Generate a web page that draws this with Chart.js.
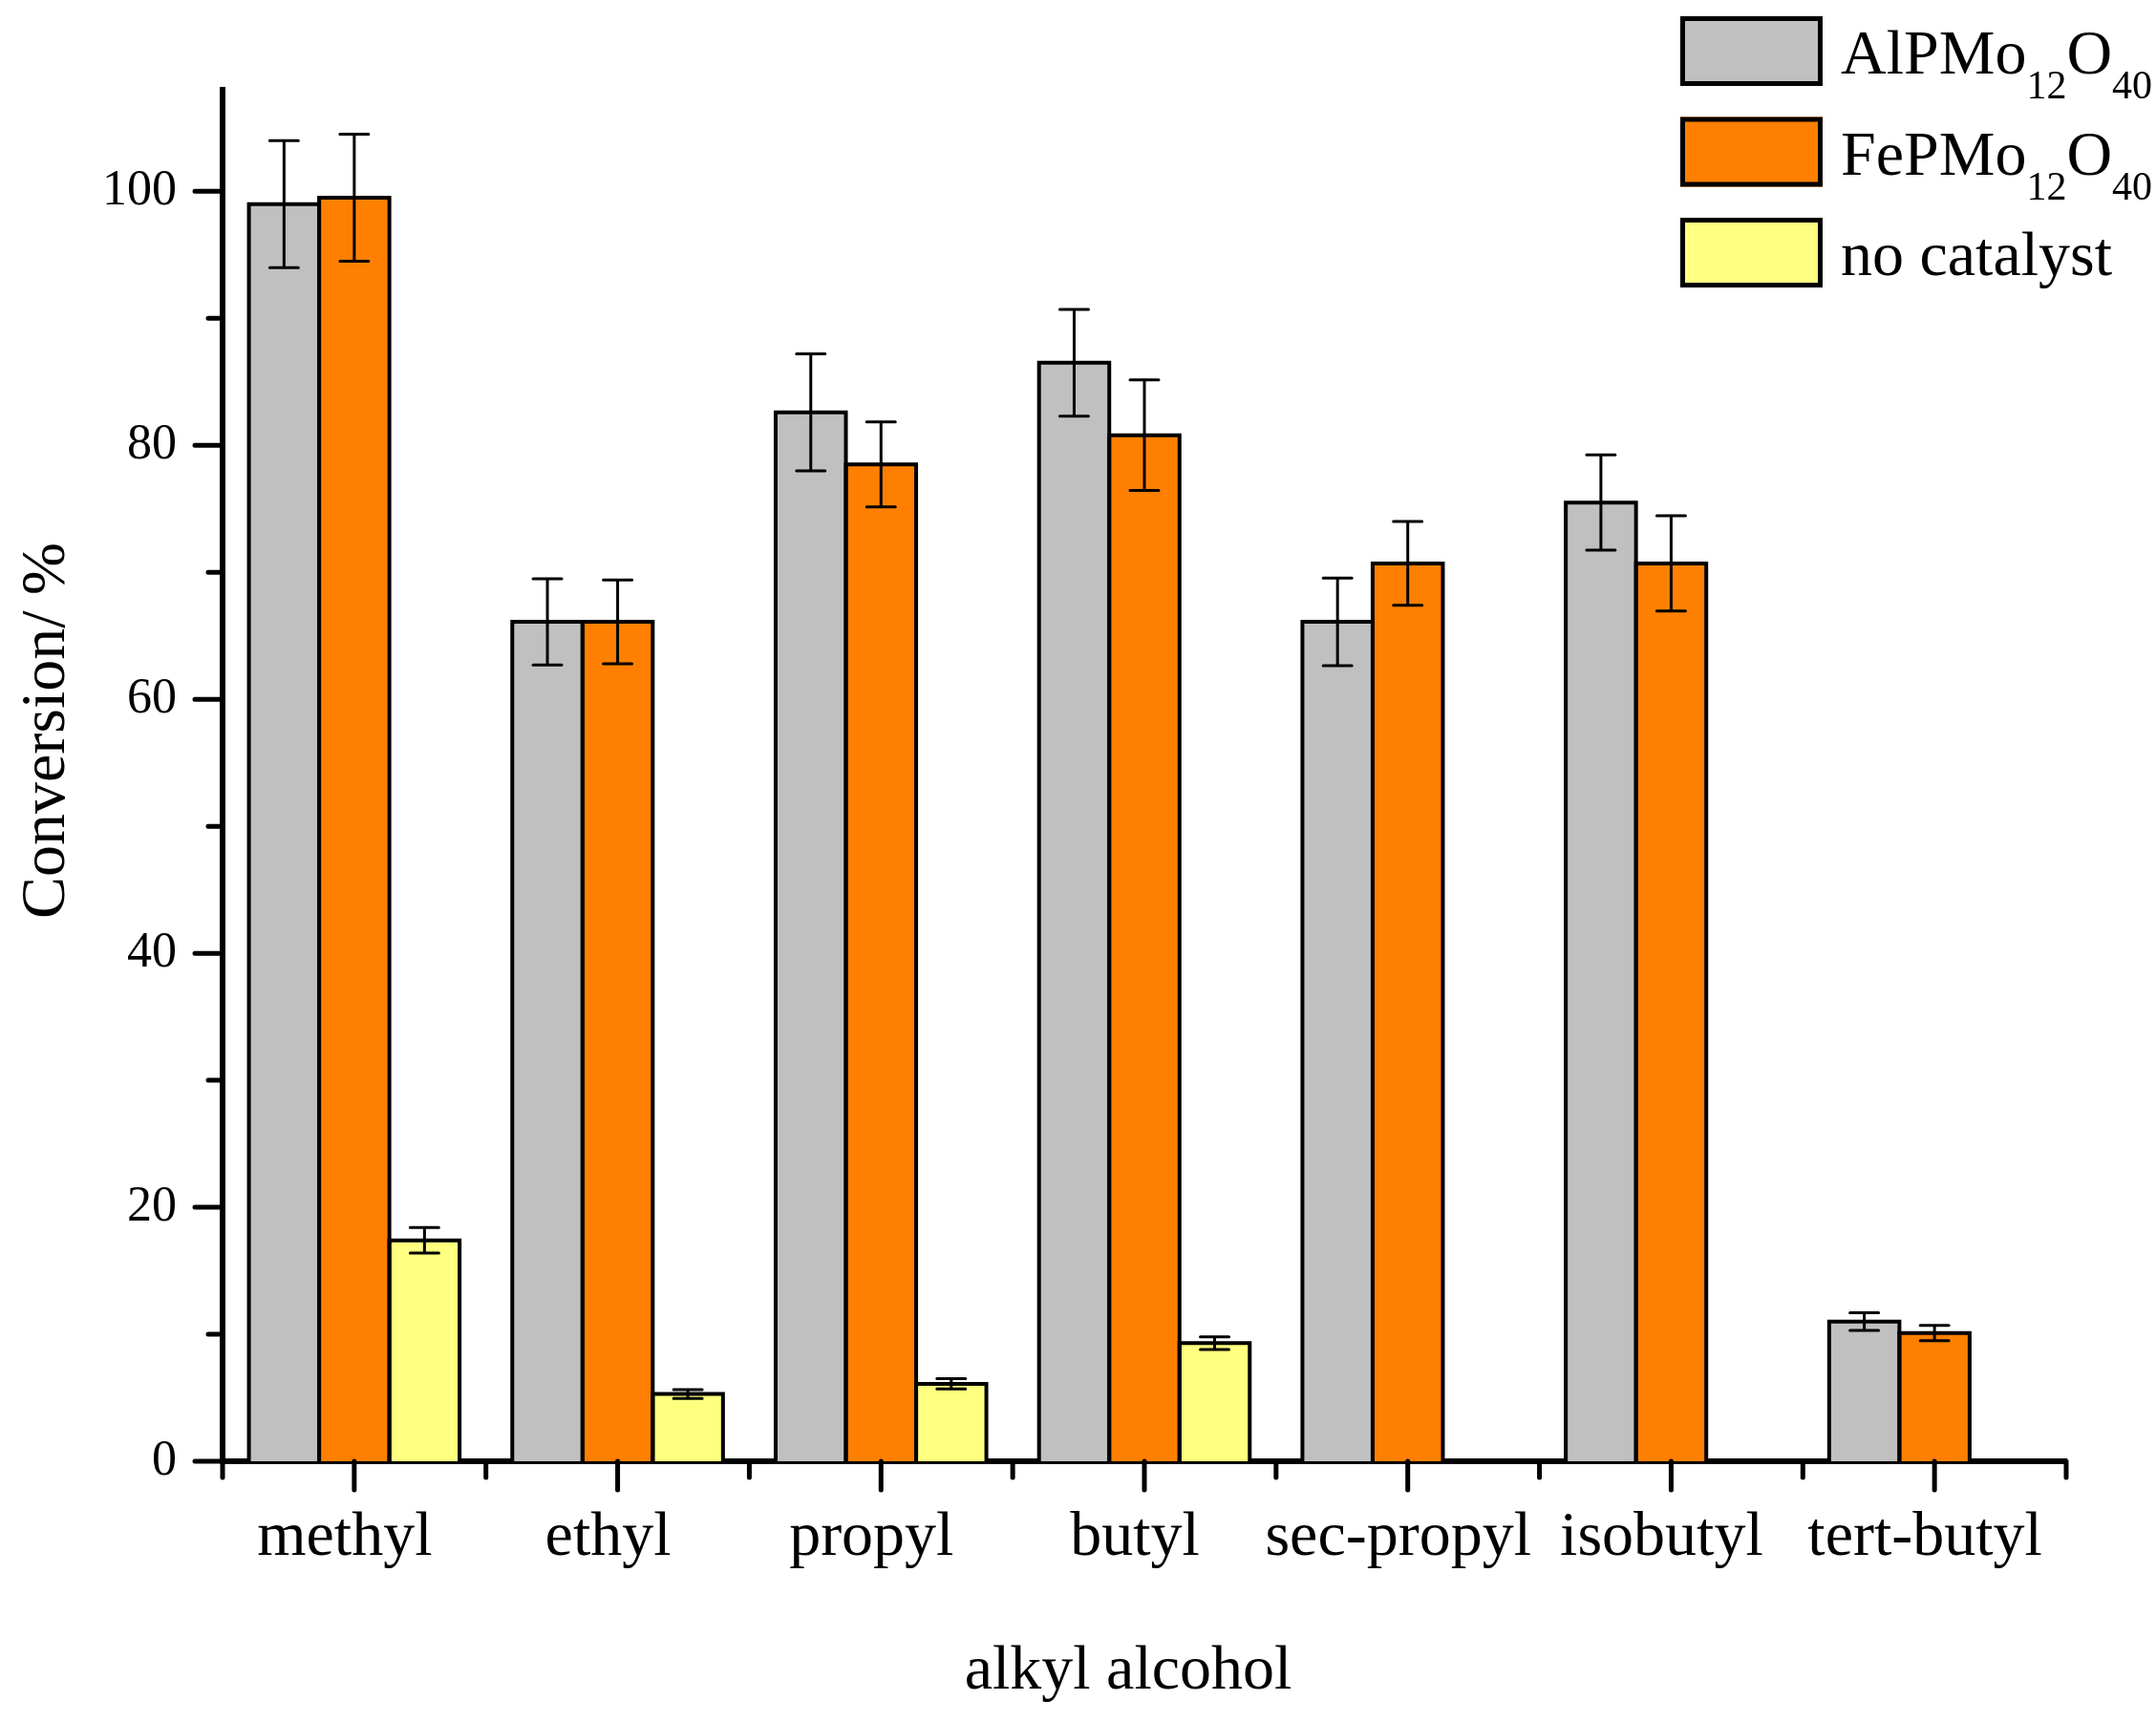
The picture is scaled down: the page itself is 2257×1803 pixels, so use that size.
<!DOCTYPE html>
<html><head><meta charset="utf-8">
<script src="https://cdn.jsdelivr.net/npm/chart.js@4.4.1/dist/chart.umd.min.js"></script>
<style>html,body{margin:0;padding:0;background:#fff}canvas{display:block}</style>
</head><body>
<canvas id="c" width="2257" height="1803" style="width:2257px;height:1803px"></canvas>
<script>
// ---- data ----
const categories = ['methyl', 'ethyl', 'propyl', 'butyl', 'sec-propyl', 'isobutyl', 'tert-butyl'];
const seriesNames = ['AlPMo12O40', 'FePMo12O40', 'no catalyst'];
const alValues = [99.0, 66.1, 82.6, 86.5, 66.1, 75.5, 11.0];
const alErrors = [5.0, 3.4, 4.6, 4.2, 3.45, 3.75, 0.7];
const feValues = [99.5, 66.1, 78.5, 80.8, 70.7, 70.7, 10.1];
const feErrors = [5.0, 3.3, 3.35, 4.35, 3.3, 3.75, 0.6];
const noCatValues = [17.4, 5.3, 6.1, 9.3, null, null, null];
const noCatErrors = [1.0, 0.35, 0.4, 0.5, null, null, null];
const yMajorTicks = [0, 20, 40, 60, 80, 100];
const yMinorTicks = [10, 30, 50, 70, 90];
const xTitle = 'alkyl alcohol';
const yTitle = 'Conversion/ %';

const FONT = "'Liberation Serif', 'Times New Roman', serif";

// ---- plugins ----
// outline each bar with a centred stroke (adjacent bars share one edge line)
const barOutlinePlugin = {
  id: 'barOutline',
  afterDatasetsDraw(chart) {
    const ctx = chart.ctx;
    ctx.save();
    ctx.strokeStyle = '#000';
    ctx.lineWidth = 4;
    ctx.lineJoin = 'miter';
    chart.data.datasets.forEach((ds, i) => {
      const meta = chart.getDatasetMeta(i);
      meta.data.forEach((bar, j) => {
        if (ds.data[j] == null) return;
        const p = bar.getProps(['x', 'y', 'base', 'width'], true);
        const l = p.x - p.width / 2, r = p.x + p.width / 2;
        ctx.beginPath();
        ctx.moveTo(l, p.base);
        ctx.lineTo(l, p.y);
        ctx.lineTo(r, p.y);
        ctx.lineTo(r, p.base);
        ctx.stroke();
      });
    });
    ctx.restore();
  }
};

const errorBarPlugin = {
  id: 'errorBars',
  afterDatasetsDraw(chart) {
    const ctx = chart.ctx, y = chart.scales.y;
    chart.data.datasets.forEach((ds, i) => {
      const meta = chart.getDatasetMeta(i);
      ds.data.forEach((v, j) => {
        const e = ds.errors[j];
        if (v == null || e == null) return;
        const x = meta.data[j].x;
        const yt = y.getPixelForValue(v + e), yb = y.getPixelForValue(v - e);
        ctx.save();
        ctx.strokeStyle = '#000';
        ctx.lineWidth = 3;
        ctx.lineCap = 'round';
        ctx.beginPath();
        ctx.moveTo(x, yt); ctx.lineTo(x, yb);
        ctx.moveTo(x - 15, yt); ctx.lineTo(x + 15, yt);
        ctx.moveTo(x - 15, yb); ctx.lineTo(x + 15, yb);
        ctx.stroke();
        ctx.restore();
      });
    });
  }
};

const axisPlugin = {
  id: 'axisDecor',
  afterDraw(chart) {
    const ctx = chart.ctx, xs = chart.scales.x, ys = chart.scales.y, a = chart.chartArea;
    ctx.save();
    ctx.strokeStyle = '#000';
    ctx.lineWidth = 5;
    ctx.lineCap = 'round';
    ctx.beginPath();
    yMajorTicks.forEach(v => { const p = ys.getPixelForValue(v); ctx.moveTo(a.left, p); ctx.lineTo(a.left - 29, p); });
    yMinorTicks.forEach(v => { const p = ys.getPixelForValue(v); ctx.moveTo(a.left, p); ctx.lineTo(a.left - 15, p); });
    categories.forEach((c, i) => {
      const p = xs.getPixelForValue(i);
      ctx.moveTo(p, a.bottom); ctx.lineTo(p, a.bottom + 30);
    });
    for (let i = 0; i <= categories.length; i++) {
      const p = xs.getPixelForValue(i - 0.5);
      ctx.moveTo(p, a.bottom); ctx.lineTo(p, a.bottom + 17);
    }
    ctx.stroke();

    // axis titles
    ctx.fillStyle = '#000';
    ctx.font = '66px ' + FONT;
    ctx.textAlign = 'center';
    ctx.textBaseline = 'alphabetic';
    ctx.fillText(xTitle, 1181, 1768);
    ctx.translate(67, 765);
    ctx.rotate(-Math.PI / 2);
    ctx.fillText(yTitle, 0, 0);
    ctx.restore();
  }
};

const legendPlugin = {
  id: 'subLegend',
  afterDraw(chart) {
    const ctx = chart.ctx;
    ctx.save();
    chart.data.datasets.forEach((ds, k) => {
      const top = 17 + k * 105.5;
      ctx.fillStyle = ds.backgroundColor;
      ctx.fillRect(1759, top, 149, 73);
      ctx.strokeStyle = '#000';
      ctx.lineWidth = 5;
      ctx.strokeRect(1761.5, top + 2.5, 144, 68);
      // label with numeric subscripts
      let x = 1927;
      const base = top + 60;
      ctx.fillStyle = '#000';
      ctx.textAlign = 'left';
      ctx.textBaseline = 'alphabetic';
      const parts = ds.label.match(/\d+|\D+/g);
      const isFormula = /\d/.test(ds.label);
      parts.forEach(p => {
        const sub = isFormula && /^\d+$/.test(p);
        ctx.font = (sub ? '42px ' : '66px ') + FONT;
        ctx.fillText(p, x, sub ? base + 26 : base);
        x += ctx.measureText(p).width;
      });
    });
    ctx.restore();
  }
};

Chart.defaults.font.family = FONT;
Chart.defaults.color = '#000';

new Chart(document.getElementById('c').getContext('2d'), {
  type: 'bar',
  data: {
    labels: categories,
    datasets: [
      { label: seriesNames[0], data: alValues, errors: alErrors, backgroundColor: '#C0C0C0', borderColor: '#000', borderWidth: 0 },
      { label: seriesNames[1], data: feValues, errors: feErrors, backgroundColor: '#FF8000', borderColor: '#000', borderWidth: 0 },
      { label: seriesNames[2], data: noCatValues, errors: noCatErrors, backgroundColor: '#FFFF80', borderColor: '#000', borderWidth: 0 }
    ]
  },
  options: {
    responsive: false,
    animation: false,
    devicePixelRatio: 1,
    layout: { padding: { top: 94, right: 94, left: 0, bottom: 0 } },
    datasets: { bar: { categoryPercentage: 0.8, barPercentage: 1.0 } },
    plugins: { legend: { display: false }, tooltip: { enabled: false }, title: { display: false } },
    scales: {
      x: {
        type: 'category',
        offset: true,
        grid: { display: false, drawTicks: false },
        border: { display: true, color: '#000', width: 6 },
        ticks: { font: { size: 66 }, color: '#000', padding: 41, labelOffset: -10, maxRotation: 0, minRotation: 0, autoSkip: false },
        afterFit(s) { s.height = 273; }
      },
      y: {
        min: 0, max: 108,
        grid: { display: false, drawTicks: false },
        border: { display: true, color: '#000', width: 6 },
        afterBuildTicks(s) { s.ticks = yMajorTicks.map(v => ({ value: v })); },
        ticks: { font: { size: 52 }, color: '#000', padding: 48 },
        afterFit(s) { s.width = 233; }
      }
    }
  },
  plugins: [barOutlinePlugin, errorBarPlugin, axisPlugin, legendPlugin]
});
</script>
</body></html>
